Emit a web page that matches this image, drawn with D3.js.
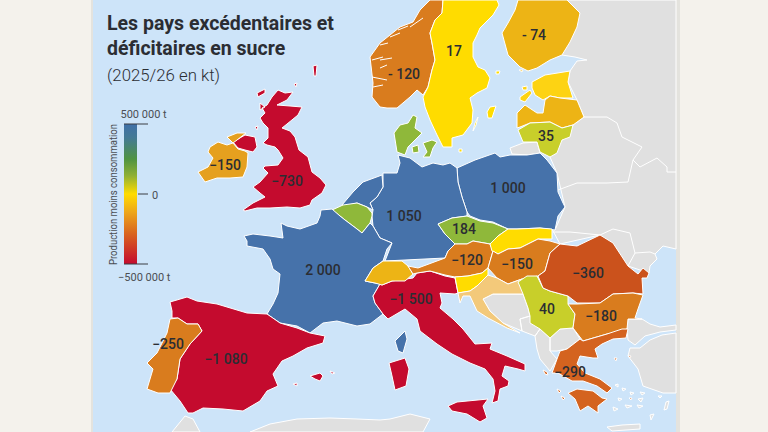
<!DOCTYPE html>
<html>
<head>
<meta charset="utf-8">
<script src="https://cdnjs.cloudflare.com/ajax/libs/d3/7.8.5/d3.min.js"></script>
<style>
  html, body { margin: 0; padding: 0; background: #f4f2ec; }
  svg { display: block; }
  text { font-family: Roboto, "Liberation Sans", sans-serif; fill: #2b2d33; }
</style>
</head>
<body>
<div id="map"></div>
<script>
// Sugar balance per country, 2025/26, in kt
var countries = ["uk", "ireland", "norway", "sweden", "finland", "lithuania", "poland", "germany",
  "czechia", "france", "spain", "portugal", "italy", "austria", "hungary", "romania", "serbia",
  "bulgaria", "greece"];
var balances = [-730, -150, -120, 17, -74, 35, 1000, 1050, 184, 2000, -1080, -250, -1500, -120, -150, -360, 40, -180, -290];
// These two are printed with a hyphen and a space on the map
var hyphenated = ["norway", "finland"];

// Legend
var legendTicks = [500000, 0, -500000];
var legendTickLabels = ["500 000 t", "0", "\u2212500 000 t"];
var legendStops = [500000, 400000, 250000, 130000, 0, -130000, -280000, -500000];
var legendColors = ["#3f6fa8", "#447a94", "#4f9342", "#90b034", "#ffdc00", "#eda61a", "#d9661f", "#c40b2e"];

// Outlines in map units
var outlines = {
  uk: [
    [[278,90],[285,93],[293,92],[287,100],[277,105],[290,106],[302,107],[298,115],[287,124],[282,128],[290,131],[295,137],[299,150],[308,157],[312,172],[320,178],[326,185],[322,193],[312,200],[310,205],[300,208],[287,207],[270,208],[257,208],[245,211],[243,210],[253,203],[265,197],[260,193],[253,187],[260,182],[268,173],[263,168],[265,166],[278,165],[283,158],[278,150],[275,147],[267,145],[263,143],[268,138],[268,128],[263,123],[260,118],[265,113],[262,108],[267,105],[272,97]],
    [[233,142],[245,135],[255,137],[257,147],[253,152],[245,150],[238,148]],
    [[257,93],[265,89],[265,93],[258,97]],
    [[260,103],[265,107],[260,110]],
    [[255,127],[258,126],[257,130]],
    [[313,66],[317,65],[316,76],[314,76]],
    [[294,84],[297,83],[296,87]]
  ],
  ireland: [
    [[210,147],[218,142],[227,145],[233,143],[238,149],[245,151],[248,153],[247,167],[243,177],[230,178],[217,178],[205,182],[198,172],[208,167],[213,158],[208,152]],
    [[227,137],[237,133],[246,133],[237,140],[233,143]]
  ],
  norway: [
    [[443,0],[442,13],[435,20],[430,33],[432,43],[435,60],[432,70],[428,87],[423,95],[417,90],[410,97],[397,108],[387,108],[380,107],[372,97],[373,83],[370,57],[380,43],[390,35],[400,27],[413,22],[420,10],[430,0]]
  ],
  sweden: [
    [[497,0],[499,5],[493,15],[480,28],[477,35],[473,43],[473,57],[478,67],[485,70],[490,78],[487,88],[477,93],[470,98],[473,110],[472,123],[463,135],[452,138],[452,147],[443,147],[437,135],[430,120],[425,107],[423,97],[428,87],[432,70],[435,60],[432,43],[430,33],[435,20],[442,13],[443,0]],
    [[490,107],[496,106],[492,118],[488,118],[487,112]],
    [[478,117],[476,125],[473,131],[475,123]],
    [[496,71],[500,71],[499,74],[496,74]],
    [[459,149],[462,149],[462,152],[459,152]]
  ],
  finland: [
    [[518,0],[567,0],[580,13],[577,27],[570,42],[562,55],[550,60],[537,68],[528,71],[520,67],[508,55],[502,33],[508,23],[515,10]],
    [[519,70],[523,70],[522,72]]
  ],
  estonia: [
    [[532,82],[545,75],[570,71],[568,82],[573,98],[560,98],[550,96],[543,100],[535,95],[532,88]],
    [[522,87],[527,86],[527,90],[523,90]],
    [[520,97],[530,90],[532,93],[525,102],[520,100]]
  ],
  latvia: [
    [[517,128],[517,113],[525,105],[537,113],[543,113],[545,100],[550,96],[560,98],[577,100],[584,117],[573,125],[562,128],[550,122],[530,123],[520,127]]
  ],
  lithuania: [
    [[518,130],[530,123],[550,122],[562,128],[573,125],[570,137],[562,140],[557,153],[550,157],[540,152],[537,142],[523,142]]
  ],
  denmark: [
    [[394,133],[400,125],[408,123],[413,115],[417,117],[415,128],[422,133],[413,142],[408,147],[405,155],[397,152]],
    [[412,147],[418,145],[419,152],[413,153]],
    [[423,143],[432,140],[437,142],[433,148],[430,157],[423,157],[427,152]]
  ],
  poland: [
    [[457,168],[475,160],[495,153],[500,157],[510,155],[527,155],[540,153],[547,160],[557,173],[558,192],[563,203],[565,207],[558,216],[555,230],[540,228],[517,229],[508,229],[493,222],[480,220],[470,216],[467,212],[462,197],[458,182]]
  ],
  germany: [
    [[398,155],[410,158],[422,167],[433,163],[443,165],[450,163],[457,168],[458,182],[462,197],[467,212],[467,216],[452,218],[438,224],[445,234],[455,244],[448,251],[445,258],[385,261],[392,243],[380,238],[373,226],[372,216],[373,210],[370,203],[377,197],[383,187],[383,173],[390,173],[397,173],[400,163]]
  ],
  netherlands: [
    [[342,205],[353,192],[363,182],[382,175],[383,187],[377,197],[370,203],[373,210],[367,207],[357,203],[345,206]]
  ],
  belgium: [
    [[332,210],[343,205],[357,203],[367,207],[372,213],[372,216],[370,223],[362,233],[357,229],[345,220],[340,216]]
  ],
  czechia: [
    [[438,224],[452,218],[467,216],[480,221],[493,223],[508,229],[498,236],[490,244],[473,241],[467,244],[455,244],[445,234]]
  ],
  france: [
    [[321,210],[332,209],[340,216],[345,220],[357,229],[362,233],[370,223],[373,226],[380,238],[392,243],[387,249],[383,261],[373,268],[365,281],[380,284],[373,296],[375,303],[383,314],[370,324],[357,326],[337,321],[323,323],[310,333],[297,326],[280,323],[267,314],[273,304],[278,293],[280,274],[273,269],[270,259],[263,249],[247,246],[247,241],[244,236],[253,234],[270,236],[283,238],[281,223],[287,226],[300,229],[317,223],[320,216]],
    [[395,341],[400,336],[405,331],[407,339],[403,353],[398,351]]
  ],
  spain: [
    [[170,302],[187,297],[197,301],[217,304],[247,313],[267,314],[280,323],[297,328],[310,333],[325,336],[323,343],[307,348],[293,356],[282,361],[273,374],[278,386],[267,391],[260,401],[243,411],[223,409],[203,408],[193,413],[188,413],[180,401],[170,389],[177,379],[180,359],[190,344],[202,331],[198,324],[187,324],[178,318],[172,318],[172,311]],
    [[310,376],[320,373],[323,376],[320,381],[315,379]],
    [[330,371],[335,373],[332,374]],
    [[293,384],[297,383],[297,386]]
  ],
  portugal: [
    [[170,319],[178,318],[187,324],[198,324],[202,331],[190,344],[180,359],[177,379],[170,393],[158,393],[147,389],[153,369],[147,363],[157,353],[167,333]]
  ],
  italy: [
    [[382,285],[392,281],[413,278],[417,273],[430,271],[445,276],[455,278],[458,293],[455,294],[440,293],[442,303],[440,308],[453,319],[463,329],[475,344],[492,343],[490,349],[507,356],[525,364],[525,371],[518,369],[505,366],[502,376],[509,381],[508,386],[500,389],[498,401],[492,403],[495,391],[493,379],[485,369],[470,363],[452,354],[437,344],[420,331],[417,319],[405,309],[388,319],[383,314],[375,303],[373,296],[380,284]],
    [[389,363],[405,358],[409,369],[406,386],[395,390],[392,376]],
    [[448,406],[457,402],[488,399],[483,406],[487,418],[480,422],[467,414],[452,411]]
  ],
  switzerland: [
    [[365,281],[373,268],[383,261],[402,261],[408,266],[413,274],[405,281],[392,281],[382,285],[375,283]]
  ],
  austria: [
    [[408,266],[418,268],[445,258],[448,251],[455,244],[467,244],[473,241],[490,244],[493,251],[488,268],[482,273],[468,276],[455,277],[445,275],[430,271],[417,273],[413,274]]
  ],
  slovakia: [
    [[508,229],[517,229],[540,228],[552,229],[552,239],[538,239],[520,248],[508,249],[498,254],[492,251],[490,244],[498,236]]
  ],
  hungary: [
    [[493,251],[498,254],[508,249],[520,248],[538,239],[550,241],[560,244],[550,253],[545,271],[538,276],[522,279],[508,284],[497,278],[488,268]]
  ],
  slovenia: [
    [[455,277],[468,276],[482,273],[488,268],[488,275],[477,286],[470,291],[458,293]]
  ],
  croatia: [
    [[488,275],[497,278],[508,284],[522,279],[523,294],[508,294],[493,294],[483,299],[490,311],[503,323],[520,333],[507,328],[488,318],[477,311],[470,296],[463,296],[460,303],[458,293],[470,291],[477,286]]
  ],
  serbia: [
    [[518,282],[527,276],[537,276],[543,288],[550,291],[568,296],[568,304],[575,314],[573,328],[560,329],[550,338],[540,329],[530,323],[530,316],[528,308],[523,294]]
  ],
  romania: [
    [[538,276],[545,271],[550,253],[560,244],[577,246],[600,235],[613,243],[628,266],[638,274],[643,268],[649,273],[647,278],[642,278],[643,294],[633,293],[613,294],[600,303],[577,303],[568,296],[550,291],[543,288]]
  ],
  bulgaria: [
    [[568,304],[577,304],[600,303],[613,294],[633,293],[643,295],[638,309],[635,318],[642,319],[628,319],[627,329],[613,333],[607,334],[583,341],[573,328],[575,314]]
  ],
  greece: [
    [[583,341],[607,334],[622,329],[628,329],[626,338],[613,339],[602,344],[595,349],[598,358],[593,358],[580,356],[577,364],[585,373],[600,379],[612,388],[607,393],[597,386],[583,381],[572,381],[558,373],[552,373],[557,359],[560,351],[567,349],[580,339]],
    [[568,393],[577,389],[593,391],[602,398],[607,399],[598,406],[598,413],[588,406],[580,411],[575,399]],
    [[543,370],[547,372],[548,375],[545,374]],
    [[557,389],[561,391],[559,393]],
    [[561,396],[565,398],[563,400]],
    [[614,358],[617,358],[616,361]],
    [[628,356],[631,356],[630,358]],
    [[629,398],[632,398],[631,400]]
  ]
};

// Countries without data
var greyLand = [
  [[567,0],[676,0],[676,249],[663,246],[655,254],[657,259],[650,266],[649,273],[628,266],[600,235],[560,244],[552,229],[555,230],[565,207],[557,173],[550,157],[562,140],[573,125],[584,117],[577,100],[568,82],[570,71],[577,61],[587,60],[575,57],[562,55]],
  [[510,148],[523,143],[537,142],[540,153],[527,155],[512,154]],
  [[483,299],[493,294],[523,294],[528,308],[530,316],[520,319],[522,331],[503,323],[490,311]],
  [[520,319],[530,316],[540,329],[535,336],[522,331]],
  [[535,336],[540,329],[550,338],[550,351],[557,359],[550,371],[540,359],[537,349]],
  [[550,338],[560,329],[573,328],[580,339],[567,349],[557,351],[550,351]],
  [[628,319],[642,319],[650,324],[660,327],[676,325],[676,330],[660,332],[645,336],[635,345],[628,340],[627,329]],
  [[676,333],[662,335],[650,340],[640,348],[630,348],[628,356],[638,369],[643,386],[663,393],[676,393]],
  [[172,432],[185,416],[193,419],[200,432]],
  [[250,432],[270,424],[297,419],[330,418],[357,419],[380,420],[390,419],[410,414],[430,419],[423,432]],
  [[607,427],[622,425],[640,424],[640,429],[612,431]]
];
var greyIslands = [
  [[615,385],[618,384],[618,387]], [[622,388],[626,389],[623,391]], [[630,392],[634,393],[631,395]],
  [[638,399],[643,398],[641,402]], [[618,398],[622,399],[619,401]], [[625,405],[632,406],[627,408]],
  [[637,405],[643,406],[639,408]], [[613,407],[618,409],[614,411]], [[666,402],[669,401],[667,409],[664,410]],
  [[650,415],[654,414],[651,420]], [[640,392],[645,393],[642,395]], [[658,396],[662,396],[660,398]]
];
// White lines: borders inside the grey land
var greyBorders = [
  [[584,117],[607,117],[617,123],[622,137],[642,147],[633,160],[640,167],[657,158],[667,167],[667,172],[676,172]],
  [[558,190],[577,183],[607,183],[628,182],[633,160]],
  [[600,235],[613,229],[630,233],[635,253],[628,266]],
  [[635,253],[650,252],[655,254]],
  [[553,232],[570,232],[600,235]]
];
// White lines: fjords on top of Norway
var fjords = [
  [[380,45],[388,43]], [[380,60],[392,58]], [[380,68],[387,65]], [[390,37],[400,33]], [[410,27],[423,18]],
  [[372,60],[383,57]], [[372,77],[387,80]], [[373,87],[383,85]], [[398,30],[408,26]]
];

// Fill per country, the map does not follow a single ramp
var countryFills = {
  uk: "#c40b2e", ireland: "#e5a01f", norway: "#d97c1e", sweden: "#ffdc00", finland: "#edb415",
  estonia: "#fdd313", latvia: "#edb415", lithuania: "#c8cf2a", denmark: "#8fb83a", poland: "#4672aa",
  germany: "#4672aa", netherlands: "#4672aa", belgium: "#8fb83a", czechia: "#8fb83a", france: "#4672aa",
  spain: "#c40b2e", portugal: "#d97c1e", italy: "#c40b2e", switzerland: "#edb415", austria: "#d97c1e",
  slovakia: "#ffdc00", hungary: "#d97c1e", slovenia: "#ffdc00", croatia: "#f3c97a", serbia: "#c8cf2a",
  romania: "#cb521c", bulgaria: "#d97c1e", greece: "#d4631f"
};

// Where each value label sits
var labelAnchors = {
  uk: [287,181], ireland: [225,165], norway: [404,74], sweden: [454,51], finland: [534,35], lithuania: [546,136],
  poland: [508,188], germany: [404,216], czechia: [464,229], france: [323,270], spain: [226,359], portugal: [168,344],
  italy: [411,299], austria: [467,260], hungary: [517,264], romania: [588,273], serbia: [547,309],
  bulgaria: [601,316], greece: [570,372]
};

var svgWidth = 768;
var svgHeight = 432;
var panel = { left: 93, right: 676 };

var svg = d3.select("#map")
  .append("svg")
  .attr("width", svgWidth)
  .attr("height", svgHeight);

// Panel edges and sea
svg.append("rect").attr("x", panel.left - 2).attr("y", 0).attr("width", panel.right - panel.left + 6).attr("height", svgHeight).attr("fill", "#e4e3de");
svg.append("rect").attr("x", panel.left).attr("y", 0).attr("width", panel.right - panel.left).attr("height", svgHeight).attr("fill", "#cde4f9");

var projection = d3.geoIdentity().clipExtent([[panel.left, 0], [panel.right, svgHeight]]);
var path = d3.geoPath(projection);

function closeRing(ring) {
  return ring.concat([ring[0]]);
}
function toPolygons(rings) {
  return { type: "MultiPolygon", coordinates: rings.map(function(r) { return [closeRing(r)]; }) };
}

var mapGroup = svg.append("g")
  .attr("stroke", "#fff")
  .attr("stroke-width", 1)
  .attr("stroke-linejoin", "round");

mapGroup.append("path").datum(toPolygons(greyLand)).attr("d", path).attr("fill", "#e0e0e0");
mapGroup.append("path").datum(toPolygons(greyIslands)).attr("d", path).attr("fill", "#e0e0e0");
mapGroup.append("path").datum({ type: "MultiLineString", coordinates: greyBorders }).attr("d", path).attr("fill", "none");

mapGroup.selectAll(".country")
  .data(Object.keys(outlines))
  .enter()
  .append("path")
  .attr("class", "country")
  .attr("d", function(d) { return path(toPolygons(outlines[d])); })
  .attr("fill", function(d) { return countryFills[d]; });

mapGroup.append("path").datum({ type: "MultiLineString", coordinates: fjords }).attr("d", path).attr("fill", "none");

// Value labels
var frFormat = d3.formatLocale({ decimal: ",", thousands: " ", grouping: [3], currency: ["", " €"], minus: "\u2212" }).format(",d");

svg.append("g").selectAll("text")
  .data(countries)
  .enter()
  .append("text")
  .attr("x", function(d) { return labelAnchors[d][0]; })
  .attr("y", function(d) { return labelAnchors[d][1]; })
  .attr("dy", "0.35em")
  .attr("text-anchor", "middle")
  .style("font-size", "14px")
  .style("font-weight", 500)
  .text(function(d, i) {
    var label = frFormat(balances[i]);
    return hyphenated.indexOf(d) >= 0 ? label.replace("\u2212", "- ") : label;
  });

// Title
svg.append("text").attr("x", 107).attr("y", 30).style("font-size", "19.5px").style("font-weight", 700).text("Les pays excédentaires et");
svg.append("text").attr("x", 107).attr("y", 54.5).style("font-size", "19.5px").style("font-weight", 700).text("déficitaires en sucre");
svg.append("text").attr("x", 107).attr("y", 81).style("font-size", "16.8px").style("font-weight", 300).text("(2025/26 en kt)");

// Legend
var legendY = d3.scaleLinear().domain([-500000, 500000]).range([264, 124]);
var defs = svg.append("defs");
var gradient = defs.append("linearGradient")
  .attr("id", "legendRamp")
  .attr("x1", 0).attr("x2", 0).attr("y1", 0).attr("y2", 1);
legendStops.forEach(function(v, i) {
  gradient.append("stop")
    .attr("offset", (legendY(v) - legendY(500000)) / (legendY(-500000) - legendY(500000)))
    .attr("stop-color", legendColors[i]);
});
svg.append("rect")
  .attr("x", 124).attr("width", 13)
  .attr("y", legendY(500000)).attr("height", legendY(-500000) - legendY(500000))
  .attr("fill", "url(#legendRamp)");

svg.append("g").selectAll("line")
  .data(legendTicks)
  .enter()
  .append("line")
  .attr("x1", function(d) { return d === 0 ? 138 : 124; })
  .attr("x2", 148)
  .attr("y1", function(d) { return legendY(d); })
  .attr("y2", function(d) { return legendY(d); })
  .attr("stroke", "#3a3d42")
  .attr("stroke-width", 1);

var legendLabelX = { "500000": 120.5, "0": 152, "-500000": 118 };
var legendLabelY = { "500000": 114, "0": 195, "-500000": 277 };
svg.append("g").selectAll("text")
  .data(legendTicks)
  .enter()
  .append("text")
  .attr("x", function(d) { return legendLabelX[d]; })
  .attr("y", function(d) { return legendLabelY[d]; })
  .attr("dy", "0.35em")
  .style("font-size", "11px")
  .style("fill", "#4b4e53")
  .text(function(d, i) { return legendTickLabels[i]; });

svg.append("text")
  .attr("transform", "translate(116.5, 194.5) rotate(-90)")
  .attr("text-anchor", "middle")
  .attr("textLength", 141)
  .attr("lengthAdjust", "spacingAndGlyphs")
  .style("font-size", "10.5px")
  .style("fill", "#4b4e53")
  .text("Production moins consommation");
</script>
</body>
</html>
